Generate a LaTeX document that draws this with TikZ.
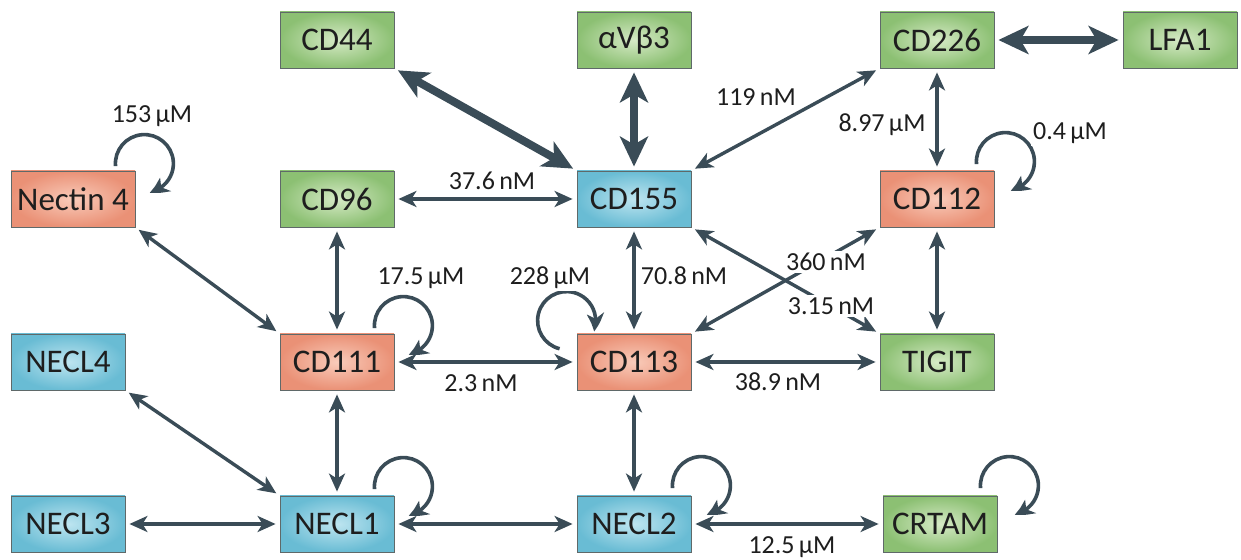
\documentclass[tikz,border=0pt]{standalone}
\usepackage{fontspec}
\setmainfont{Carlito}
\usetikzlibrary{arrows.meta,calc,bending}
\definecolor{arrowc}{HTML}{3A4C57}
\definecolor{gO}{RGB}{140,192,115}
\definecolor{gI}{RGB}{214,234,198}
\definecolor{sO}{RGB}{234,145,118}
\definecolor{sI}{RGB}{249,203,186}
\definecolor{bO}{RGB}{105,188,212}
\definecolor{bI}{RGB}{190,229,240}
\definecolor{bord}{RGB}{95,105,105}
\definecolor{txt}{RGB}{30,30,30}
\begin{document}
\begin{tikzpicture}[x=1pt,y=1pt,
  box/.style={draw=bord, line width=0.8pt, minimum width=114pt, minimum height=56pt,
    inner sep=0pt, font=\fontsize{33}{36}\selectfont, text=txt},
  gbox/.style={box, inner color=gI, outer color=gO},
  sbox/.style={box, inner color=sI, outer color=sO},
  bbox/.style={box, inner color=bI, outer color=bO},
  lab/.style={font=\fontsize{26}{28}\selectfont, text=txt, fill=white, inner sep=2pt},
  link/.style={line width=3.4pt, draw=arrowc,
    {Stealth[length=18pt,width=16pt,inset=5pt]}-{Stealth[length=18pt,width=16pt,inset=5pt]},
    shorten <=4pt, shorten >=4pt},
  biglink/.style={line width=8pt, draw=arrowc,
    {Stealth[length=30pt,width=28pt,inset=8pt]}-{Stealth[length=30pt,width=28pt,inset=8pt]},
    shorten <=4pt, shorten >=4pt},
  selfloop/.style={line width=3.6pt, draw=arrowc,
    -{Stealth[length=18pt,width=17pt,inset=5pt,bend]}}
]
\useasboundingbox (0,0) rectangle (1241,559);

% nodes
\node[gbox] (cd44)  at (337,519) {CD44};
\node[gbox] (avb3)  at (634,519) {αVβ3};
\node[gbox] (cd226) at (937,519) {CD226};
\node[gbox] (lfa1)  at (1180,519) {LFA1};
\node[sbox, minimum width=124pt] (nec4) at (73,360) {Nectin 4};
\node[gbox] (cd96)  at (337,360) {CD96};
\node[bbox] (cd155) at (634,360) {CD155};
\node[sbox] (cd112) at (937,360) {CD112};
\node[bbox] (necl4) at (68,197) {NECL4};
\node[sbox] (cd111) at (337,197) {CD111};
\node[sbox] (cd113) at (634,197) {CD113};
\node[gbox] (tigit) at (937,197) {TIGIT};
\node[bbox] (necl3) at (68,35) {NECL3};
\node[bbox] (necl1) at (337,35) {NECL1};
\node[bbox] (necl2) at (634,35) {NECL2};
\node[gbox] (crtam) at (940,35) {CRTAM};

% connectors
\draw[biglink] (cd44.south east) -- (cd155.north west);
\draw[biglink] (avb3) -- (cd155);
\draw[biglink] (cd226) -- (lfa1);
\draw[link] (cd155.north east) -- (cd226.south west);
\draw[link] (cd226) -- (cd112);
\draw[link] (cd96) -- (cd155);
\draw[link] (cd96) -- (cd111);
\draw[link] (nec4.south east) -- (cd111.north west);
\draw[link] (cd111) -- (cd113);
\draw[link] (cd155) -- (cd113);
\draw[link] (cd155.south east) -- (tigit.north west);
\draw[link] (cd113.north east) -- (cd112.south west);
\draw[link] (cd113) -- (tigit);
\draw[link] (tigit) -- (cd112);
\draw[link] (necl4.south east) -- (necl1.north west);
\draw[link] (cd111) -- (necl1);
\draw[link] (necl3) -- (necl1);
\draw[link] (necl1) -- (necl2);
\draw[link] (cd113) -- (necl2);
\draw[link] (necl2) -- (crtam);

% self loops
\draw[selfloop] ($(nec4.north east)+(9,7)+(185:29)$) arc[start angle=185, end angle=-80, radius=29];
\draw[selfloop] ($(cd111.north east)+(9,8)+(185:29)$) arc[start angle=185, end angle=-80, radius=29];
\draw[selfloop] ($(cd112.north east)+(11,9)+(185:29)$) arc[start angle=185, end angle=-80, radius=29];
\draw[selfloop] ($(necl1.north east)+(9,9)+(185:29)$) arc[start angle=185, end angle=-80, radius=29];
\draw[selfloop] ($(necl2.north east)+(10,10)+(185:29)$) arc[start angle=185, end angle=-80, radius=29];
\draw[selfloop] ($(crtam.north east)+(12,10)+(185:29)$) arc[start angle=185, end angle=-80, radius=29];
\draw[selfloop] ($(cd113.north west)+(-10,13)+(256:29)$) arc[start angle=256, end angle=-22, radius=29];

% labels
\node[lab] (l153) at (152,443) {153\,µM};
\node[lab] (l119) at (756,462) {119\,nM};
\node[lab] (l897) at (882,434) {8.97\,µM};
\node[lab] (l04)  at (1070,426) {0.4\,µM};
\node[lab] (l376) at (492,378) {37.6\,nM};
\node[lab] (l175) at (421,281) {17.5\,µM};
\node[lab] (l228) at (550,281) {228\,µM};
\node[lab] (l708) at (684,283) {70.8\,nM};
\node[lab] (l360) at (826,297) {360\,nM};
\node[lab] (l315) at (831,253) {3.15\,nM};
\node[lab] (l23)  at (481,176) {2.3\,nM};
\node[lab] (l389) at (778,177) {38.9\,nM};
\node[lab] (l125) at (792,12) {12.5\,µM};
\end{tikzpicture}
\end{document}
